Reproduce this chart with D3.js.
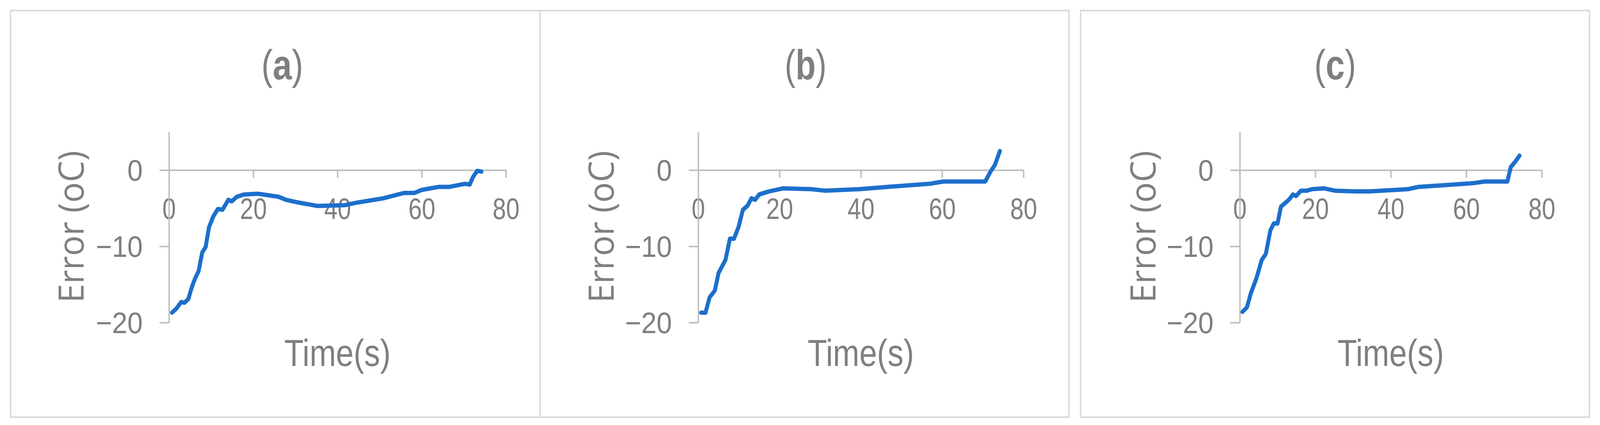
<!DOCTYPE html>
<html>
<head>
<meta charset="utf-8">
<script src="https://cdn.jsdelivr.net/npm/d3@7"></script>
<style>
  html, body { margin: 0; padding: 0; height: 100%; overflow: hidden; background: #fff; }
  svg { display: block; width: 100vw; height: 100vh; }
</style>
</head>
<body>
<div id="chart"></div>
<script>
// Data: time (s) and error (oC) per panel
const timeA = [0.7, 1.7, 2.9, 3.7, 4.6, 5.4, 6.2, 7.0, 7.9, 8.7, 9.5, 10.5, 11.6, 12.7, 14.1, 14.9, 16.1, 17.8, 21.1, 26, 27.8, 30.2, 35.2, 41.8, 44.3, 47.6, 50.9, 55.8, 58.3, 60, 64.1, 66.6, 70.3, 71.4, 72.2, 73.2, 74.2];
const errorA = [-18.7, -18.2, -17.3, -17.4, -16.9, -15.4, -14.2, -13.3, -10.8, -10.1, -7.5, -6.1, -5.1, -5.2, -3.9, -4.1, -3.5, -3.2, -3.1, -3.5, -3.9, -4.2, -4.7, -4.6, -4.3, -4.0, -3.7, -3.0, -3.0, -2.6, -2.2, -2.2, -1.8, -1.9, -0.9, -0.1, -0.2];

const timeB = [0.7, 1.8, 2.8, 4.1, 5.0, 6.7, 7.8, 8.8, 9.9, 11.0, 12.1, 13.1, 14.0, 15.0, 17.4, 20.8, 27.7, 31.1, 39.7, 46.6, 56.9, 60.3, 70.6, 71.9, 73.0, 74.2];
const errorB = [-18.7, -18.7, -16.7, -15.8, -13.5, -11.8, -9.0, -9.0, -7.5, -5.2, -4.7, -3.7, -3.9, -3.2, -2.8, -2.4, -2.5, -2.7, -2.5, -2.2, -1.8, -1.5, -1.5, -0.2, 0.7, 2.5];

const timeC = [0.7, 1.9, 2.9, 4.4, 5.8, 6.9, 8.1, 9.0, 10, 10.9, 13, 14.1, 14.9, 16.2, 17.8, 19.2, 22.4, 25.2, 30.7, 34.4, 44.6, 47.4, 56.6, 62.1, 64.9, 70.9, 71.8, 73.0, 74.1];
const errorC = [-18.6, -18.0, -16.2, -14.2, -11.8, -11.0, -7.9, -7.0, -7.0, -4.8, -3.9, -3.2, -3.4, -2.7, -2.7, -2.5, -2.4, -2.7, -2.8, -2.8, -2.5, -2.2, -1.9, -1.7, -1.5, -1.5, 0.4, 1.1, 1.9];

const titles = ["a", "b", "c"];
const xTicks = [0, 20, 40, 60, 80];
const yTicks = [-20, -10, 0];

// Layout of each panel (pixels)
const W = 4393, H = 1087;
const frames = [[29, 1483], [1483, 2935], [2967, 4364]];
const plots = [
  { x0: 464, x1: 1389, yLab: 196, title: 775 },
  { x0: 1917, x1: 2810, yLab: 1652, title: 2212 },
  { x0: 3404, x1: 4233, yLab: 3139, title: 3666 }
];
const series = [[timeA, errorA], [timeB, errorB], [timeC, errorC]];

const grey = "#7f7f7f";
const axisColor = "#bfbfbf";
const narrow = "'Liberation Sans Narrow', 'Arial Narrow', 'Liberation Sans', sans-serif";

const svg = d3.select("#chart").append("svg")
  .attr("viewBox", `0 0 ${W} ${H}`)
  .attr("preserveAspectRatio", "none");

// Panel frames
frames.forEach(([l, r]) => {
  svg.append("rect")
    .attr("x", l).attr("y", 27)
    .attr("width", r - l).attr("height", 1040)
    .attr("fill", "none")
    .attr("stroke", "#d9d9d9")
    .attr("stroke-width", 4);
});

plots.forEach((p, i) => {
  const x = d3.scaleLinear().domain([0, 80]).range([p.x0, p.x1]);
  const y = d3.scaleLinear().domain([-20, 5]).range([825, 337.5]);

  // X axis at y = 0
  const gx = svg.append("g")
    .attr("transform", `translate(0, ${y(0)})`)
    .call(d3.axisBottom(x).tickValues(xTicks).tickSize(20).tickSizeOuter(0));
  gx.selectAll("text")
    .attr("y", 98).attr("dy", "0.35em")
    .attr("textLength", (d) => (String(d).length > 1 ? 74 : 37))
    .attr("lengthAdjust", "spacingAndGlyphs")
    .style("font-family", narrow).style("font-size", "76px").style("fill", grey);

  // Y axis
  const gy = svg.append("g")
    .attr("transform", `translate(${p.x0}, 0)`)
    .call(d3.axisLeft(y).tickValues(yTicks).tickSize(26).tickSizeOuter(0)
      .tickFormat((d) => (d < 0 ? "\u2212" + Math.abs(d) : d)));
  gy.selectAll("text")
    .attr("x", -72).attr("dy", "0.35em")
    .style("font-family", narrow).style("font-size", "76px").style("fill", grey);

  svg.selectAll("path.domain, g.tick line")
    .style("stroke", axisColor).style("stroke-width", 4);

  // Line
  const [ts, vs] = series[i];
  svg.append("path")
    .datum(ts)
    .attr("fill", "none")
    .attr("stroke", "#1c6fcc")
    .attr("stroke-width", 11)
    .attr("stroke-linejoin", "round")
    .attr("stroke-linecap", "round")
    .attr("d", d3.line().x((d) => x(d)).y((d, j) => y(vs[j])));

  // Title
  const t = svg.append("text")
    .attr("x", p.title).attr("y", 203)
    .attr("text-anchor", "middle")
    .attr("textLength", 115).attr("lengthAdjust", "spacingAndGlyphs")
    .style("font-family", narrow).style("font-size", "108px").style("fill", grey);
  t.append("tspan").text("(");
  t.append("tspan").style("font-weight", "bold").text(titles[i]);
  t.append("tspan").text(")");

  // Axis titles
  svg.append("text")
    .attr("x", (p.x0 + p.x1) / 2).attr("y", 936)
    .attr("text-anchor", "middle")
    .attr("textLength", 292).attr("lengthAdjust", "spacingAndGlyphs")
    .style("font-family", narrow).style("font-size", "96px").style("fill", grey)
    .text("Time(s)");

  svg.append("text")
    .attr("transform", `translate(${p.yLab + 33}, 580) rotate(-90)`)
    .attr("text-anchor", "middle")
    .attr("textLength", 389).attr("lengthAdjust", "spacingAndGlyphs")
    .style("font-family", "'Open Sans', sans-serif").style("font-size", "96px").style("fill", grey)
    .text("Error (oC)");
});
</script>
</body>
</html>
